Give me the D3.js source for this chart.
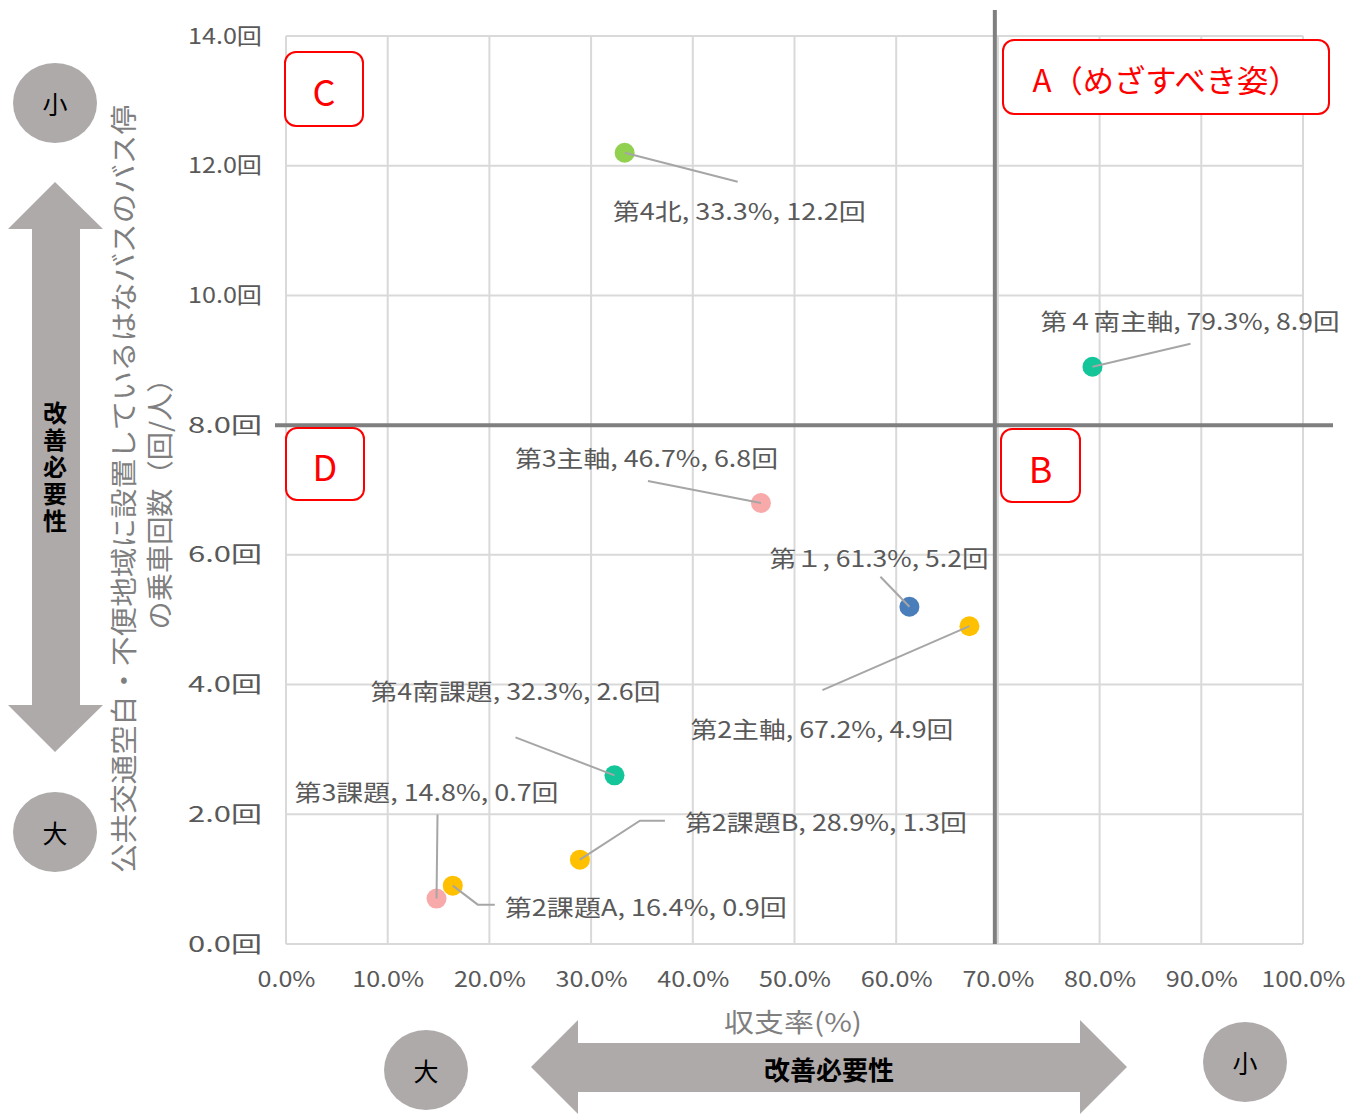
<!DOCTYPE html>
<html lang="ja">
<head>
<meta charset="utf-8">
<title>収支率と乗車回数</title>
<script src="https://d3js.org/d3.v7.min.js"></script>
<style>
  body { margin: 0; background: #fff; }
  text { font-family: "Noto Sans CJK JP", "Noto Sans", sans-serif; }
</style>
</head>
<body>
<svg width="1360" height="1115"></svg>
<script>
// data
const names = ["第4北", "第４南主軸", "第3主軸", "第１", "第2主軸", "第4南課題", "第2課題B", "第2課題A", "第3課題"];
const rates = [33.3, 79.3, 46.7, 61.3, 67.2, 32.3, 28.9, 16.4, 14.8];      // 収支率(%)
const rides = [12.2, 8.9, 6.8, 5.2, 4.9, 2.6, 1.3, 0.9, 0.7];               // 乗車回数(回/人)
const colors = ["#92d050", "#14c59a", "#f8a9a9", "#4a7ebb", "#ffc000", "#14c59a", "#ffc000", "#ffc000", "#f8a9a9"];
const xTicks = [0, 10, 20, 30, 40, 50, 60, 70, 80, 90, 100];
const yTicks = [0, 2, 4, 6, 8, 10, 12, 14];
const quadrantX = 69.7;
const quadrantY = 8.0;

// label placement (pixel offsets from the point): text start, text middle, leader bends
const labelLayout = [
  { tx: -12, ty: 57, w: 253, lead: [[113, 29]] },
  { tx: -52, ty: -47, w: 299, lead: [[98, -23]] },
  { tx: -246, ty: -46, w: 263, lead: [[-113, -22]] },
  { tx: -140, ty: -50, w: 219, lead: [[-29, -30]] },
  { tx: -279, ty: 102, w: 263, lead: [[-147, 64]] },
  { tx: -244, ty: -85, w: 290, lead: [[-99, -38]] },
  { tx: 105, ty: -39, w: 282, lead: [[60, -39], [85, -39]] },
  { tx: 52, ty: 20, w: 282, lead: [[25, 19], [42, 19]] },
  { tx: -142, ty: -108, w: 264, lead: [[1, -84]] }
];

const svg = d3.select("svg");
const grey = "#595959";

const x = d3.scaleLinear().domain([0, 100]).range([286, 1303]);
const y = d3.scaleLinear().domain([0, 14]).range([944, 36]);

// gridlines
svg.append("g")
  .selectAll("line.gx")
  .data(xTicks)
  .enter()
  .append("line")
  .attr("x1", d => x(d)).attr("x2", d => x(d))
  .attr("y1", y(14)).attr("y2", y(0))
  .attr("stroke", "#d9d9d9").attr("stroke-width", 2);

svg.append("g")
  .selectAll("line.gy")
  .data(yTicks)
  .enter()
  .append("line")
  .attr("x1", x(0)).attr("x2", x(100))
  .attr("y1", d => y(d)).attr("y2", d => y(d))
  .attr("stroke", "#d9d9d9").attr("stroke-width", 2);

// axes (labels only)
const yAxis = svg.append("g")
  .attr("transform", "translate(" + (x(0) - 24) + ",0)")
  .call(d3.axisLeft(y).tickValues(yTicks).tickSize(0).tickPadding(0).tickFormat(d => d.toFixed(1) + "回"));
yAxis.select(".domain").remove();
yAxis.selectAll("text")
  .attr("fill", grey).attr("font-size", 22)
  .attr("textLength", 74).attr("lengthAdjust", "spacingAndGlyphs")
  .attr("font-family", "Noto Sans CJK JP");

const xAxis = svg.append("g")
  .attr("transform", "translate(0," + (y(0) + 24) + ")")
  .call(d3.axisBottom(x).tickValues(xTicks).tickSize(0).tickFormat(d => d.toFixed(1) + "%"));
xAxis.select(".domain").remove();
xAxis.selectAll("text")
  .attr("fill", grey).attr("font-size", 22)
  .attr("textLength", d => d === 100 ? 84 : (d === 0 ? 58 : 72)).attr("lengthAdjust", "spacingAndGlyphs")
  .attr("font-family", "Noto Sans CJK JP");

// axis titles
svg.append("text")
  .attr("x", 793).attr("y", 1032)
  .attr("text-anchor", "middle")
  .attr("textLength", 138).attr("lengthAdjust", "spacingAndGlyphs")
  .attr("fill", "#7f7f7f").attr("font-size", 26)
  .text("収支率(%)");

svg.append("text")
  .attr("transform", "translate(134,489) rotate(-90)")
  .attr("text-anchor", "middle")
  .attr("textLength", 768).attr("lengthAdjust", "spacingAndGlyphs")
  .attr("fill", "#7f7f7f").attr("font-size", 27)
  .text("公共交通空白・不便地域に設置しているはなバスのバス停");

svg.append("text")
  .attr("transform", "translate(170,497) rotate(-90)")
  .attr("text-anchor", "middle")
  .attr("textLength", 265).attr("lengthAdjust", "spacingAndGlyphs")
  .attr("fill", "#7f7f7f").attr("font-size", 27)
  .text("の乗車回数（回/人）");

// quadrant lines
svg.append("line")
  .attr("x1", x(quadrantX)).attr("x2", x(quadrantX))
  .attr("y1", y(14) - 26).attr("y2", y(0))
  .attr("stroke", "#7f7f7f").attr("stroke-width", 4);
svg.append("line")
  .attr("x1", x(0) - 11).attr("x2", x(100) + 30)
  .attr("y1", y(quadrantY)).attr("y2", y(quadrantY))
  .attr("stroke", "#7f7f7f").attr("stroke-width", 4);

// quadrant boxes
const boxes = [
  { t: "C", x0: 285, y0: 52, w: 78, h: 74, tl: 0 },
  { t: "A（めざすべき姿）", x0: 1003, y0: 40, w: 326, h: 74, tl: 267 },
  { t: "D", x0: 286, y0: 428, w: 78, h: 72, tl: 0 },
  { t: "B", x0: 1001, y0: 429, w: 79, h: 73, tl: 0 }
];
const box = svg.append("g").selectAll("g").data(boxes).enter().append("g");
box.append("rect")
  .attr("x", d => d.x0).attr("y", d => d.y0)
  .attr("width", d => d.w).attr("height", d => d.h)
  .attr("rx", 11).attr("fill", "#fff")
  .attr("stroke", "#ff0000").attr("stroke-width", 2);
box.append("text")
  .attr("x", d => d.x0 + d.w / 2).attr("y", d => d.y0 + d.h / 2 + 1)
  .attr("text-anchor", "middle").attr("dominant-baseline", "central")
  .attr("fill", "#ff0000").attr("font-size", d => d.t.length > 1 ? 31 : 36)
  .each(function (d) {
    if (d.tl) d3.select(this).attr("textLength", d.tl).attr("lengthAdjust", "spacingAndGlyphs");
  })
  .text(d => d.t);

// points
const pts = d3.range(names.length);
svg.append("g")
  .selectAll("circle")
  .data(pts)
  .enter()
  .append("circle")
  .attr("cx", i => x(rates[i])).attr("cy", i => y(rides[i]))
  .attr("r", 10)
  .attr("fill", i => colors[i]);

// leader lines
svg.append("g")
  .selectAll("path")
  .data(pts)
  .enter()
  .append("path")
  .attr("d", i => {
    const px = x(rates[i]), py = y(rides[i]);
    const p = [[px, py]].concat(labelLayout[i].lead.map(o => [px + o[0], py + o[1]]));
    return d3.line()(p);
  })
  .attr("fill", "none")
  .attr("stroke", "#a6a6a6").attr("stroke-width", 2);

// data labels
svg.append("g")
  .selectAll("text")
  .data(pts)
  .enter()
  .append("text")
  .attr("x", i => x(rates[i]) + labelLayout[i].tx)
  .attr("y", i => y(rides[i]) + labelLayout[i].ty)
  .attr("dominant-baseline", "central")
  .attr("textLength", i => labelLayout[i].w).attr("lengthAdjust", "spacingAndGlyphs")
  .attr("fill", grey).attr("font-size", 23)
  .text(i => names[i] + ", " + rates[i].toFixed(1) + "%, " + rides[i].toFixed(1) + "回");

// improvement-need arrows and markers
const arrowFill = "#aeaaaa";
svg.append("path")
  .attr("d", "M55,182 L103,229 L80,229 L80,705 L103,705 L55,752 L8,705 L32,705 L32,229 L8,229 Z")
  .attr("fill", arrowFill);
svg.append("path")
  .attr("d", "M531,1067 L578,1020 L578,1043 L1080,1043 L1080,1020 L1127,1067 L1080,1114 L1080,1092 L578,1092 L578,1114 Z")
  .attr("fill", arrowFill);

const marks = [
  { t: "小", cx: 55, cy: 103 },
  { t: "大", cx: 55, cy: 832 },
  { t: "大", cx: 426, cy: 1070 },
  { t: "小", cx: 1245, cy: 1062 }
];
const mk = svg.append("g").selectAll("g").data(marks).enter().append("g");
mk.append("ellipse")
  .attr("cx", d => d.cx).attr("cy", d => d.cy)
  .attr("rx", 42).attr("ry", 40)
  .attr("fill", arrowFill);
mk.append("text")
  .attr("x", d => d.cx).attr("y", d => d.cy)
  .attr("text-anchor", "middle").attr("dominant-baseline", "central")
  .attr("fill", "#000").attr("font-size", 25)
  .text(d => d.t);

const need = "改善必要性";
svg.append("text")
  .attr("x", 55).attr("y", 468)
  .attr("text-anchor", "middle")
  .style("writing-mode", "vertical-rl")
  .style("text-orientation", "upright")
  .attr("letter-spacing", 3)
  .attr("font-size", 24).attr("font-weight", "bold").attr("fill", "#000")
  .text(need);

svg.append("text")
  .attr("x", 829).attr("y", 1068)
  .attr("text-anchor", "middle").attr("dominant-baseline", "central")
  .attr("font-size", 26).attr("font-weight", "bold").attr("fill", "#000")
  .text(need);
</script>
</body>
</html>
